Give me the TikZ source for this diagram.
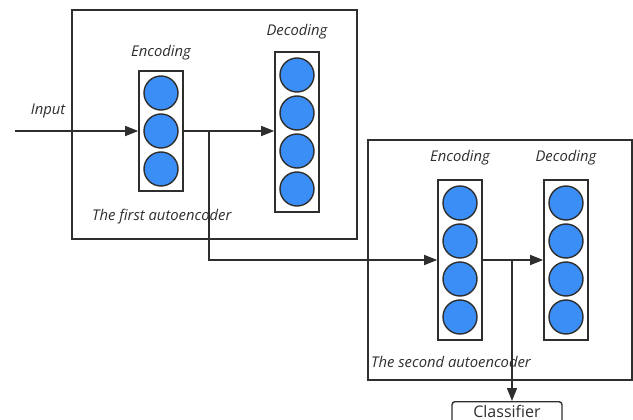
\documentclass[tikz,border=0pt]{standalone}
\usepackage{fontspec}
\setmainfont{Open Sans}
\usetikzlibrary{arrows.meta}
\definecolor{ln}{HTML}{2E2E2E}
\definecolor{cblue}{HTML}{3B8EF5}
\tikzset{
  frame/.style={draw=ln, line width=1.6pt},
  col/.style={draw=ln, line width=1.6pt, fill=white, minimum width=44pt, inner sep=0pt},
  unit/.style={circle, draw=ln, line width=1.4pt, fill=cblue, minimum size=34pt, inner sep=0pt},
  lab/.style={font=\fontsize{14.8}{17}\selectfont\itshape, text=ln, inner sep=0pt},
  conn/.style={draw=ln, line width=1.6pt},
  arr/.style={conn, -{Triangle[length=13pt,width=10pt]}},
}
\begin{document}
\begin{tikzpicture}[x=1pt,y=-1pt]
\useasboundingbox (0,0) rectangle (633,420);
% frames
\node[frame, minimum width=285pt, minimum height=229pt, inner sep=0pt] (box1) at (214.5,124.5) {};
\node[frame, minimum width=264pt, minimum height=240pt, inner sep=0pt] (box2) at (500,260) {};
% columns
\node[col, minimum height=120pt] (enc1) at (161,131) {};
\node[col, minimum height=160pt] (dec1) at (297,132) {};
\node[col, minimum height=160pt] (enc2) at (460,260) {};
\node[col, minimum height=160pt] (dec2) at (566,260) {};
% units
\node[unit] (e1a) at (161,93) {};
\node[unit] (e1b) at (161,131) {};
\node[unit] (e1c) at (161,169) {};
\foreach \n/\yy in {a/-57,b/-19,c/19,d/57}{
  \node[unit] (d1\n) at ([yshift=\yy]dec1.center) {};
  \node[unit] (e2\n) at ([yshift=\yy]enc2.center) {};
  \node[unit] (d2\n) at ([yshift=\yy]dec2.center) {};
}
% labels
\node[lab] (inlab) at (48,111) {Input};
\node[lab] (enclab1) at (161,53) {Encoding};
\node[lab] (declab1) at (297,32) {Decoding};
\node[lab, anchor=west] (first) at (92,217) {The first autoencoder};
\node[lab] (enclab2) at (460,158) {Encoding};
\node[lab] (declab2) at (566,158) {Decoding};
\node[lab, anchor=west] (second) at (371,362) {The second autoencoder};
% classifier
\node[draw=ln, line width=1.4pt, rounded corners=3pt, minimum width=110pt, inner sep=0pt,
      text height=16pt, text depth=13pt,
      font=\fontsize{16}{18}\selectfont, text=ln, anchor=north] (cls) at (507,401) {Classifier};
% connectors
\coordinate (src) at (15,131);
\coordinate (j1) at (209,131);
\coordinate (j2) at (512,260);
\draw[arr] (src) -- (enc1.west);
\draw[arr] (enc1.east) -- (dec1.west |- enc1.east);
\draw[arr] (j1) |- (enc2.west);
\draw[arr] (enc2.east) -- (dec2.west);
\draw[arr] (j2) -- (j2 |- cls.north);
\end{tikzpicture}
\end{document}
